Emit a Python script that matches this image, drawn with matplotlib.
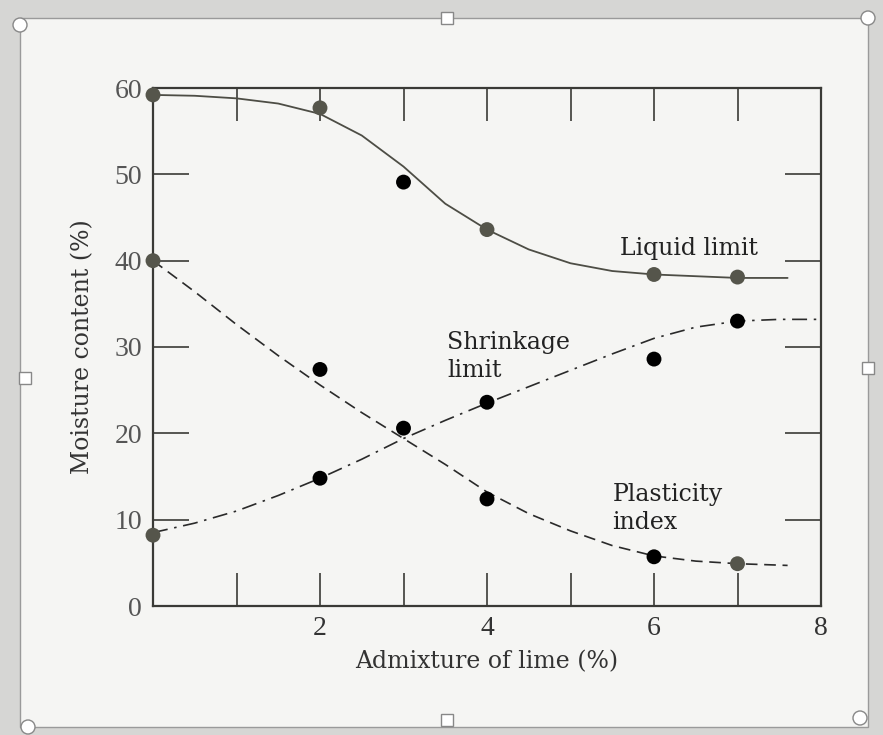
import matplotlib
matplotlib.use("Agg")
import matplotlib.pyplot as plt
from matplotlib.patches import Rectangle, Ellipse

# ---------------- data ----------------
# measured points
ll_x = [0, 2, 3, 4, 6, 7]
ll_y = [59.2, 57.7, 49.1, 43.6, 38.4, 38.1]

sl_x = [0, 2, 3, 4, 6, 7]
sl_y = [8.2, 14.8, 20.6, 23.6, 28.6, 33.0]

pi_x = [0, 2, 4, 6, 7]
pi_y = [40.0, 27.4, 12.4, 5.7, 4.9]

# fitted curves as drawn in the figure
ll_curve_x = [0, 0.5, 1, 1.5, 2, 2.5, 3, 3.5, 4, 4.5, 5, 5.5, 6, 6.5, 7, 7.6]
ll_curve_y = [59.2, 59.1, 58.8, 58.2, 57.0, 54.5, 50.9, 46.6, 43.6, 41.3, 39.7, 38.8, 38.4, 38.2, 38.0, 38.0]

pi_curve_x = [0, 0.5, 1, 1.5, 2, 2.5, 3, 3.5, 4, 4.5, 5, 5.5, 6, 6.5, 7, 7.6]
pi_curve_y = [40.0, 36.4, 32.6, 29.0, 25.6, 22.4, 19.4, 16.4, 13.2, 10.7, 8.7, 7.0, 5.8, 5.2, 4.9, 4.7]

sl_curve_x = [0, 0.5, 1, 1.5, 2, 2.5, 3, 3.5, 4, 4.5, 5, 5.5, 6, 6.5, 7, 7.5, 8]
sl_curve_y = [8.5, 9.6, 11.0, 12.8, 14.8, 17.0, 19.4, 21.5, 23.5, 25.4, 27.3, 29.2, 31.0, 32.3, 33.0, 33.2, 33.2]

x_ticks = [0, 1, 2, 3, 4, 5, 6, 7, 8]
x_tick_labels = ["", "", "2", "", "4", "", "6", "", "8"]
y_ticks = [0, 10, 20, 30, 40, 50, 60]
y_tick_labels = ["0", "10", "20", "30", "40", "50", "60"]

# ---------------- figure ----------------
W, H = 883, 735
fig = plt.figure(figsize=(W / 100, H / 100), dpi=100)
fig.patch.set_facecolor("#d6d6d4")

def px(x, y):
    return (x / W, 1 - y / H)

# page panel
x0, y0 = px(20, 727)
x1, y1 = px(868, 18)
fig.patches.append(Rectangle((x0, y0), x1 - x0, y1 - y0, transform=fig.transFigure,
                             facecolor="#f5f5f3", edgecolor="#9a9a9a", lw=1.0, zorder=-10))
# selection handles
for (hx, hy) in [(20, 25), (868, 18), (28, 727), (860, 718)]:
    cx, cy = px(hx, hy)
    fig.patches.append(Ellipse((cx, cy), 14 / W, 14 / H, transform=fig.transFigure,
                               facecolor="white", edgecolor="#888888", lw=1.0, zorder=5))
for (hx, hy) in [(447, 18), (25, 378), (868, 368), (447, 720)]:
    cx, cy = px(hx, hy)
    s = 12
    fig.patches.append(Rectangle((cx - s / 2 / W, cy - s / 2 / H), s / W, s / H,
                                 transform=fig.transFigure, facecolor="white",
                                 edgecolor="#888888", lw=1.0, zorder=5))

ax = fig.add_axes([153 / W, 1 - 606 / H, (821 - 153) / W, (606 - 88) / H])
ax.set_zorder(1)
ax.set_facecolor("none")
ax.set_xlim(0, 8)
ax.set_ylim(0, 60)

serif = "Liberation Serif"
wide = "DejaVu Serif"
line_c = "#4d4d45"
spine_c = "#3a3a36"

ax.plot(ll_curve_x, ll_curve_y, color=line_c, lw=1.3, solid_capstyle="round", zorder=2, clip_on=False)
ax.plot(pi_curve_x, pi_curve_y, color="#2a2a2a", lw=1.2, dashes=(7, 4), zorder=2)
ax.plot(sl_curve_x, sl_curve_y, color="#2a2a2a", lw=1.2, dashes=(9, 4, 1.5, 4), zorder=2)

gray_pt = "#55554b"
ax.scatter(ll_x, ll_y, s=115, c=[gray_pt, gray_pt, "black", gray_pt, gray_pt, gray_pt], zorder=3, linewidths=0, clip_on=False)
ax.scatter(sl_x, sl_y, s=115, c=[gray_pt, "black", "black", "black", "black", "black"], zorder=3, linewidths=0, clip_on=False)
ax.scatter(pi_x, pi_y, s=115, c=[gray_pt, "black", "black", "black", gray_pt], zorder=3, linewidths=0, clip_on=False)

for sp in ax.spines.values():
    sp.set_color(spine_c)
    sp.set_linewidth(1.6)

ax.set_xticks(x_ticks)
ax.set_xticklabels(x_tick_labels)
ax.set_yticks(y_ticks)
ax.set_yticklabels(y_tick_labels)
ax.tick_params(axis="x", direction="in", length=24, width=1.2, color=spine_c,
               top=True, bottom=True, pad=7, labelsize=20, labelcolor="#333333")
ax.tick_params(axis="y", direction="in", length=26, width=1.2, color=spine_c,
               left=True, right=True, pad=8, labelsize=20, labelcolor="#555555")
for lab in ax.get_xticklabels() + ax.get_yticklabels():
    lab.set_family(serif)

ax.set_xlabel("Admixture of lime (%)", family=wide, fontsize=17, color="#333333")
ax.xaxis.set_label_coords(0.5, -0.086)
ax.set_ylabel("Moisture content (%)", family=wide, fontsize=17, color="#333333")
ax.yaxis.set_label_coords(-0.088, 0.5)

ax.text(5.59, 42.7, "Liquid limit", family=wide, fontsize=17, color="#222222", va="top")
ax.text(3.52, 31.9, "Shrinkage\nlimit", family=wide, fontsize=17, color="#222222",
        va="top", linespacing=1.3)
ax.text(5.5, 14.3, "Plasticity\nindex", family=wide, fontsize=17, color="#222222",
        va="top", linespacing=1.3)

fig.savefig("out.png", dpi=100, facecolor=fig.get_facecolor())
